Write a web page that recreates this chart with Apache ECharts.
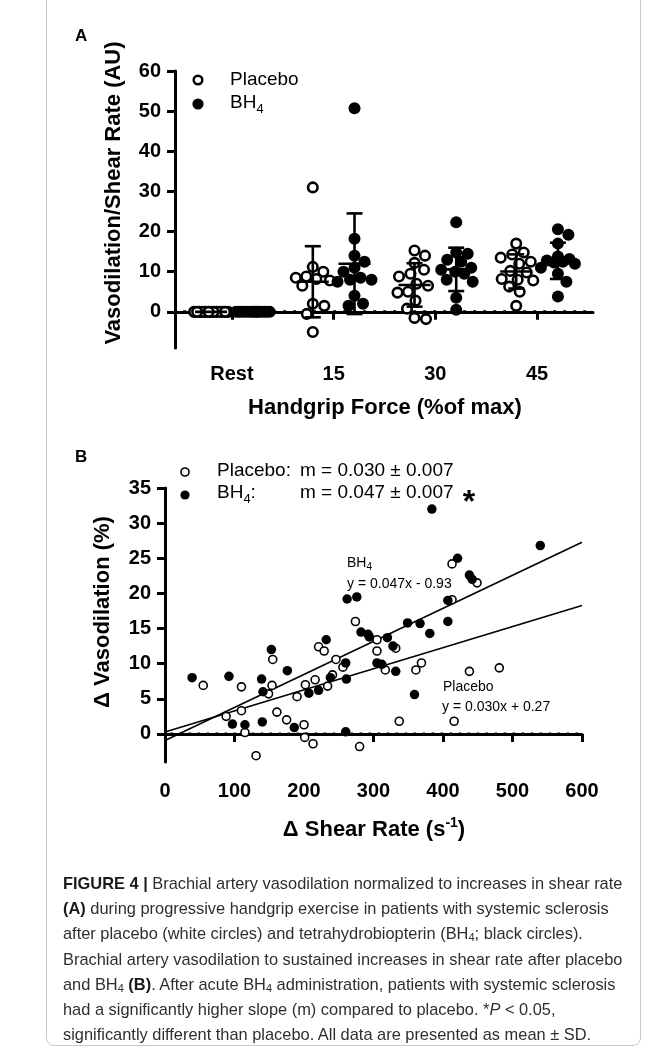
<!DOCTYPE html>
<html><head><meta charset="utf-8">
<script src="https://cdn.jsdelivr.net/npm/echarts@6/dist/echarts.min.js"></script>
<style>
html,body{margin:0;padding:0;background:#fff;}
#wrap{position:relative;width:655px;height:1054px;overflow:hidden;background:#fff;}
#chart{position:absolute;left:0;top:0;width:655px;height:1054px;}
#frame{position:absolute;left:46px;top:-10px;width:595px;height:1056px;border:1px solid #c9c9c9;border-radius:8px;box-sizing:border-box;}
#caption{position:absolute;left:63px;top:871px;font-family:'Liberation Sans',Arial,sans-serif;font-size:16.4px;line-height:25.2px;color:#2e2e2e;white-space:nowrap;}
#caption b{color:#1a1a1a;}
#caption sub{font-size:11px;line-height:0;vertical-align:-2px;}
</style></head>
<body><div id="wrap"><div id="frame"></div><div id="chart"></div>
<div id="caption"><b>FIGURE 4 |</b> Brachial artery vasodilation normalized to increases in shear rate<br><b>(A)</b> during progressive handgrip exercise in patients with systemic sclerosis<br>after placebo (white circles) and tetrahydrobiopterin (BH<sub>4</sub>; black circles).<br>Brachial artery vasodilation to sustained increases in shear rate after placebo<br>and BH<sub>4</sub> <b>(B)</b>. After acute BH<sub>4</sub> administration, patients with systemic sclerosis<br>had a significantly higher slope (m) compared to placebo. *<i>P</i> &lt; 0.05,<br>significantly different than placebo. All data are presented as mean ± SD.</div>
</div>
<script>
// ---------------- DATA ----------------
// Panel A: vasodilation / shear rate (AU) per handgrip level
const handgripLabels = ['Rest', '15', '30', '45'];
const placeboRest = [0,0,0,0,0,0,0,0,0,0,0,0,0];
const placebo15   = [31.0, 11.2, 10.0, 8.8, 8.5, 8.2, 7.8, 6.5, 2.0, 1.5, -0.5, -5.0];
const placebo30   = [15.3, 14.0, 12.2, 10.5, 9.5, 8.8, 7.0, 6.5, 5.0, 4.8, 2.8, 0.8, -1.5, -1.8];
const placebo45   = [17.0, 14.8, 14.3, 13.5, 12.5, 12.0, 10.2, 9.8, 8.2, 8.0, 7.8, 6.3, 5.0, 1.5];
const bh4Rest = [0,0,0,0,0,0,0,0,0,0,0,0,0,0];
const bh415   = [50.7, 18.2, 14.0, 12.5, 11.0, 10.0, 8.5, 8.0, 8.0, 7.5, 4.0, 2.0, 1.5];
const bh430   = [22.3, 14.8, 14.5, 13.0, 12.5, 11.0, 10.5, 10.0, 9.5, 8.0, 7.5, 3.5, 0.5];
const bh445   = [20.6, 19.2, 17.0, 13.8, 13.2, 12.8, 12.5, 12.3, 12.0, 11.0, 9.5, 7.5, 3.8];
const significantLevels = [1, 2, 3]; // * vs placebo
const yTicksA = [0, 10, 20, 30, 40, 50, 60];

// Panel B: delta shear rate (s^-1) vs delta vasodilation (%)
const placeboShear = [55, 88, 110, 110, 115, 131, 149, 154, 155, 161, 175, 190, 200, 201, 202, 213, 216, 221, 229, 234, 241, 246, 256, 274, 280, 305, 305, 317, 332, 337, 361, 369, 413, 413, 416, 438, 449, 481];
const placeboVaso  = [6.9, 2.5, 6.7, 3.3, 0.2, -3.1, 5.7, 6.9, 10.6, 3.1, 2.0, 5.3, 1.3, -0.5, 7.0, -1.4, 7.7, 12.4, 11.8, 6.8, 8.4, 10.6, 9.5, 16.0, -1.8, 13.4, 11.8, 9.1, 12.2, 1.8, 9.1, 10.1, 19.1, 24.2, 1.8, 8.9, 21.5, 9.4];
const bh4Shear = [39, 92, 97, 115, 139, 141, 140, 153, 176, 186, 207, 221, 232, 238, 260, 261, 260, 262, 276, 282, 292, 294, 305, 312, 320, 328, 332, 349, 359, 367, 381, 384, 407, 407, 421, 438, 442, 540];
const bh4Vaso  = [8.0, 8.2, 1.4, 1.3, 7.8, 6.0, 1.7, 12.0, 9.0, 0.9, 5.8, 6.2, 13.4, 8.0, 10.1, 7.8, 0.3, 19.2, 19.5, 14.5, 14.2, 13.8, 10.1, 9.9, 13.7, 12.5, 8.9, 15.8, 5.6, 15.7, 14.3, 32.0, 16.0, 19.0, 25.0, 22.6, 22.0, 26.8];
const fitSlope     = { placebo: 0.030, bh4: 0.047 };
const fitIntercept = { placebo: 0.27,  bh4: -0.93 };
const yTicksB = [0, 5, 10, 15, 20, 25, 30, 35];

// ---------------- LAYOUT ----------------
const FONT = '"Liberation Sans", Arial, sans-serif';
const gA = { left: 175, top: 71, width: 418, height: 277 };
const gB = { left: 165, top: 488, width: 417, height: 274 };
const xA = { min: -0.56, max: 3.55 }, yA = { min: -9, max: 60 };
const xB = { min: 0, max: 600 },      yB = { min: -4, max: 35 };
const groupShift = 0.205;
const pxPerX = gA.width / (xA.max - xA.min);
const pxPerY = gA.height / (yA.max - yA.min);

function mean(a){ return a.reduce((s,v)=>s+v,0)/a.length; }
function sd(a){ const m=mean(a); return Math.sqrt(a.reduce((s,v)=>s+(v-m)*(v-m),0)/(a.length-1)); }

// beeswarm offsets (in px) computed from the values
function swarm(vals, diam, maxHalf){
  const order = vals.map((v,i)=>i).sort((a,b)=>vals[b]-vals[a]);
  const placed = [], offs = new Array(vals.length);
  for (const i of order){
    const y = vals[i]*pxPerY;
    let best = null, cand = 0, candScore = -1;
    for (let s=0; s<=maxHalf+1e-9 && best===null; s+=0.5){
      for (const o of (s===0?[0]:[s,-s])){
        let md = Infinity;
        for (const p of placed){ const d=Math.hypot(p.x-o,p.y-y); if(d<md) md=d; }
        if (md >= diam){ best=o; break; }
        if (md > candScore){ candScore=md; cand=o; }
      }
    }
    if (best===null) best=cand;
    placed.push({x:best,y}); offs[i]=best;
  }
  return offs;
}
function dots(groups, shift){
  const out = [];
  groups.forEach((vals, gi)=>{
    const offs = swarm(vals, 11.5, 17);
    vals.forEach((v,i)=> out.push([gi + shift + offs[i]/pxPerX, v]));
  });
  return out;
}
const placeboGroups = [placeboRest, placebo15, placebo30, placebo45];
const bh4Groups = [bh4Rest, bh415, bh430, bh445];

function errData(groups, shift){
  return groups.map((g,gi)=>[gi+shift, mean(g), g.every(v=>v===g[0])?0:sd(g)]);
}
function errRender(params, api){
  const x=api.value(0), m=api.value(1), s=api.value(2);
  const pm=api.coord([x,m]), pt=api.coord([x,m+s]), pb=api.coord([x,m-s]);
  const st={stroke:'#000', lineWidth:2.6};
  const ch=[{type:'line',shape:{x1:pm[0]-16,y1:pm[1],x2:pm[0]+16,y2:pm[1]},style:st}];
  if (s>0){
    ch.push({type:'line',shape:{x1:pm[0],y1:pt[1],x2:pm[0],y2:pb[1]},style:st});
    ch.push({type:'line',shape:{x1:pm[0]-8,y1:pt[1],x2:pm[0]+8,y2:pt[1]},style:st});
    ch.push({type:'line',shape:{x1:pm[0]-8,y1:pb[1],x2:pm[0]+8,y2:pb[1]},style:st});
  }
  return {type:'group', children:ch};
}

const axisLine = { lineStyle: { color: '#000', width: 3 } };
const axisTick = (vals) => ({ show:true, length: 8, lineStyle: { color:'#000', width: 3 }, customValues: vals });
const lblStyle = { color:'#000', fontFamily: FONT, fontWeight:'bold', fontSize: 20 };

// text helper
const mctx = document.createElement('canvas').getContext('2d');
function tw(t, size, weight){ mctx.font = (weight||'normal')+' '+size+'px "Liberation Sans"'; return mctx.measureText(t).width; }
function txt(t, x, y, size, weight, extra){
  return Object.assign({ type:'text', x, y, z:10, style:{ text:t, fill:'#000', fontSize:size, fontFamily:FONT, fontWeight:weight||'normal',
    align:'left', verticalAlign:'middle', textAlign:'left', textVerticalAlign:'middle' } }, extra||{});
}
function ctxt(t, x, y, size, weight, extra){
  const e = txt(t,x,y,size,weight,extra); e.style.align='center'; e.style.textAlign='center'; return e;
}
// sequence of pieces: [text, size, weight, dy]
function pieces(list, x, y){
  const out=[]; let cx=x;
  list.forEach(p=>{ out.push(txt(p[0], cx, y+(p[3]||0), p[1], p[2])); cx += tw(p[0], p[1], p[2]); });
  return out;
}
function centeredPieces(list, cx, y){
  const w = list.reduce((s,p)=>s+tw(p[0],p[1],p[2]),0);
  return pieces(list, cx - w/2, y);
}

// fit lines from slope / intercept over the x-axis range
const fitLine = (k) => [[xB.min, fitIntercept[k] + fitSlope[k]*xB.min], [xB.max, fitIntercept[k] + fitSlope[k]*xB.max]];

const graphics = [
  txt('A', 75, 36, 17, 'bold'),
  txt('B', 75, 457, 17, 'bold'),
  ctxt('Vasodilation/Shear Rate (AU)', 114, 193, 22, 'bold', { rotation: Math.PI/2 }),
  ctxt('Handgrip Force (%of max)', 385, 408, 22, 'bold'),
  ctxt('\u0394 Vasodilation (%)', 103, 612, 22, 'bold', { rotation: Math.PI/2 }),
  ...centeredPieces([['\u0394 Shear Rate (s',22,'bold'],['-1',14,'bold',-7],[')',22,'bold']], 374, 830),
  // legend A
  { type:'circle', shape:{cx:198, cy:80, r:4.3}, style:{fill:'#fff', stroke:'#000', lineWidth:2.5}, z:10 },
  { type:'circle', shape:{cx:198, cy:104, r:5.6}, style:{fill:'#000'}, z:10 },
  txt('Placebo', 230, 80, 19),
  ...pieces([['BH',19],['4',13,'normal',6]], 230, 103),
  // legend B
  { type:'circle', shape:{cx:185, cy:472, r:4}, style:{fill:'#fff', stroke:'#000', lineWidth:1.6}, z:10 },
  { type:'circle', shape:{cx:185, cy:495, r:4.6}, style:{fill:'#000'}, z:10 },
  txt('Placebo:', 217, 471, 19),
  txt('m = ' + fitSlope.placebo.toFixed(3) + ' \u00b1 0.007', 300, 471, 19),
  ...pieces([['BH',19],['4',13,'normal',6],[':',19]], 217, 493),
  txt('m = ' + fitSlope.bh4.toFixed(3) + ' \u00b1 0.007', 300, 493, 19),
  ctxt('*', 469, 503, 32, 'bold'),
  // fit labels
  ...pieces([['BH',14],['4',10,'normal',4]], 347, 563),
  txt('y = 0.047x - 0.93', 347, 584, 14),
  txt('Placebo', 443, 687, 14),
  txt('y = 0.030x + 0.27', 442, 707, 14)
];

// y = 0 reference lines (span of each x axis)
const zeroA = [[xA.min + 0.08, 0], [xA.max - 0.02, 0]];
const zeroB = [[xB.min + 8, 0], [xB.max - 4, 0]];

const chart = echarts.init(document.getElementById('chart'), null, { renderer:'canvas' });
chart.setOption({
  animation: false,
  backgroundColor: 'transparent',
  grid: [
    { left: gA.left, top: gA.top, width: gA.width, height: gA.height },
    { left: gB.left, top: gB.top, width: gB.width, height: gB.height }
  ],
  xAxis: [
    { gridIndex:0, type:'value', min:xA.min, max:xA.max, splitLine:{show:false}, axisLine,
      axisTick: axisTick([0,1,2,3]),
      axisLabel: Object.assign({ customValues:[0,1,2,3], margin: 16, formatter: v => handgripLabels[Math.round(v)] }, lblStyle) },
    { gridIndex:1, type:'value', min:xB.min, max:xB.max, interval:100, splitLine:{show:false}, axisLine,
      axisTick:{ length:8, lineStyle:{color:'#000', width:3} },
      axisLabel: Object.assign({ margin: 19 }, lblStyle) }
  ],
  yAxis: [
    { gridIndex:0, type:'value', min:yA.min, max:yA.max, splitLine:{show:false}, axisLine:Object.assign({onZero:false}, axisLine),
      axisTick: axisTick(yTicksA),
      axisLabel: Object.assign({ customValues: yTicksA, margin: 14 }, lblStyle) },
    { gridIndex:1, type:'value', min:yB.min, max:yB.max, splitLine:{show:false}, axisLine:Object.assign({onZero:false}, axisLine),
      axisTick: axisTick(yTicksB),
      axisLabel: Object.assign({ customValues: yTicksB, margin: 14 }, lblStyle) }
  ],
  series: [
    // Panel A
    { type:'line', xAxisIndex:0, yAxisIndex:0, data: zeroA, symbol:'none', silent:true, z:1,
      lineStyle:{ color:'#000', width:3, type:[3, 7] } },
    { type:'scatter', xAxisIndex:0, yAxisIndex:0, data: dots(placeboGroups, -groupShift), symbol:'circle', symbolSize:9.5,
      itemStyle:{ color:'#fff', borderColor:'#000', borderWidth:2.6, opacity:1 }, z:3 },
    { type:'scatter', xAxisIndex:0, yAxisIndex:0, data: dots(bh4Groups, groupShift), symbol:'circle', symbolSize:12,
      itemStyle:{ color:'#000', opacity:1 }, z:3 },
    { type:'custom', xAxisIndex:0, yAxisIndex:0, data: errData(placeboGroups, -groupShift), renderItem: errRender, z:4 },
    { type:'custom', xAxisIndex:0, yAxisIndex:0, data: errData(bh4Groups, groupShift), renderItem: errRender, z:4 },
    { type:'scatter', xAxisIndex:0, yAxisIndex:0, symbol:'none', symbolSize:0, z:5,
      data: significantLevels.map(i => [i + groupShift, Math.max(...bh4Groups[i]) + 6]),
      label:{ show:true, position:'inside', formatter:'*', fontSize:34, fontWeight:'bold', fontFamily:FONT, color:'#000', offset:[0,8] } },
    // Panel B
    { type:'line', xAxisIndex:1, yAxisIndex:1, data: zeroB, symbol:'none', silent:true, z:1,
      lineStyle:{ color:'#000', width:2.6, type:[2.6, 6.4] } },
    { type:'line', xAxisIndex:1, yAxisIndex:1, data: fitLine('bh4'), symbol:'none', lineStyle:{color:'#000', width:1.6}, z:2 },
    { type:'line', xAxisIndex:1, yAxisIndex:1, data: fitLine('placebo'), symbol:'none', lineStyle:{color:'#000', width:1.6}, z:2 },
    { type:'scatter', xAxisIndex:1, yAxisIndex:1, data: placeboShear.map((x,i)=>[x, placeboVaso[i]]), symbol:'circle', symbolSize:8,
      itemStyle:{ color:'#fff', borderColor:'#000', borderWidth:1.6, opacity:1 }, z:3 },
    { type:'scatter', xAxisIndex:1, yAxisIndex:1, data: bh4Shear.map((x,i)=>[x, bh4Vaso[i]]), symbol:'circle', symbolSize:9.5,
      itemStyle:{ color:'#000', opacity:1 }, z:3 }
  ],
  graphic: graphics
});
</script>
</body></html>
